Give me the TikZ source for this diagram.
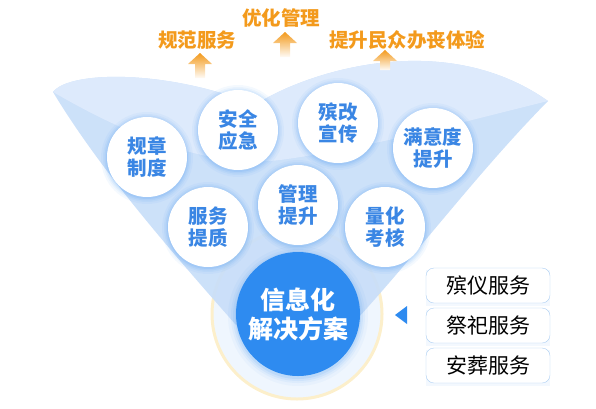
\documentclass[tikz,border=0pt]{standalone}
\usepackage{fontspec}
\newfontfamily\cjk{Noto Sans CJK SC}
\definecolor{funnelbody}{HTML}{C8DEF9}
\definecolor{funnelrim}{HTML}{DDEAFC}
\definecolor{hubblue}{HTML}{2E8BF0}
\definecolor{bubbletext}{HTML}{3A86E4}
\definecolor{goalorange}{HTML}{F39A1C}
\definecolor{haloring}{HTML}{FCEFCB}
\definecolor{halofill}{HTML}{EFF6FE}
\definecolor{boxedge}{HTML}{AACDF3}
\tikzset{
  bubble/.style={circle,fill=white,minimum size=80pt,inner sep=0pt,align=center,
    text=bubbletext,font=\cjk\bfseries\fontsize{19.5}{22}\selectfont},
  hub/.style={circle,fill=hubblue,minimum size=124pt,inner sep=0pt,align=center,
    text=white,font=\cjk\bfseries\fontsize{25}{29}\selectfont},
  goal/.style={text=goalorange,font=\cjk\bfseries\fontsize{19.5}{22}\selectfont},
  svcbox/.style={draw=boxedge,fill=white,rounded corners=8pt,minimum width=124pt,
    minimum height=35pt,inner sep=0pt,font=\cjk\fontsize{21}{24}\selectfont}
}
\begin{document}
\begin{tikzpicture}[x=1pt,y=-1pt]
\useasboundingbox (0,0) rectangle (596,408);
\draw[haloring,line width=3pt,fill=halofill] (297,314) circle (85pt);
\fill[funnelbody,opacity=.92] (53,92) .. controls (70,70) and (170,70) .. (255,105)
  .. controls (300,75) and (440,25) .. (548,101)
  .. controls (480,170) and (420,250) .. (358,318) -- (298,335) -- (236,325)
  .. controls (170,250) and (100,170) .. cycle;
\fill[funnelrim] (53,92) .. controls (70,70) and (170,70) .. (255,105)
  .. controls (300,75) and (440,25) .. (548,101)
  .. controls (470,120) and (370,148) .. (280,160)
  .. controls (200,170) and (110,125) .. cycle;
\foreach \gx/\gy/\gtop in {200/78/53,285/57/32,385/70/50}{
  \shade[top color=goalorange,bottom color=goalorange!4]
    (\gx,\gtop) -- (\gx+12,\gtop+11) -- (\gx+5,\gtop+11) -- (\gx+5,\gy)
    -- (\gx-5,\gy) -- (\gx-5,\gtop+11) -- (\gx-12,\gtop+11) -- cycle;
}
\node[goal] (goalnorm) at (197,40) {规范服务};
\node[goal] (goalmgmt) at (281,18) {优化管理};
\node[goal] (goalexp) at (407,40) {提升民众办丧体验};
\foreach \bx/\by/\bname/\btext in
  {147/157/rule/规章\\制度,238/130/safe/安全\\应急,338/123/reform/殡改\\宣传,
   433/148/satis/满意度\\提升,208/227/serv/服务\\提质,298/205/manage/管理\\提升,
   385/227/quant/量化\\考核}{
  \foreach \r/\o in {46/.05,44/.06,42.5/.08,41/.1}
    \fill[hubblue,opacity=\o] (\bx,\by+1) circle (\r pt);
  \node[bubble] (\bname) at (\bx,\by) {\btext};
}
\foreach \r/\o in {70/.04,67/.06,65/.08,63/.1}
  \fill[hubblue,opacity=\o] (298,316) circle (\r pt);
\node[hub] (hub) at (298,314) {信息化\\解决方案};
\fill[hubblue] (395,315) -- (407,306) -- (407,324) -- cycle;
\foreach \t [count=\i] in {殡仪服务,祭祀服务,安葬服务}{
  \fill[hubblue,opacity=.06] (426,268+40*\i-40+2) rectangle (550,303+40*\i-40+3);
  \node[svcbox] (svc\i) at (488,285.5+40*\i-40) {\t};
}
\end{tikzpicture}
\end{document}
